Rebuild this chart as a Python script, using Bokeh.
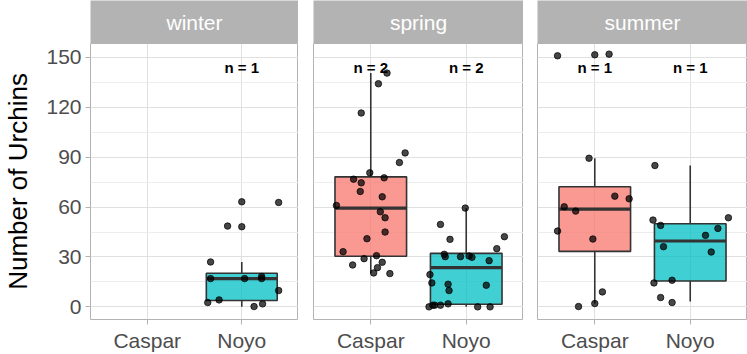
from bokeh.plotting import figure
from bokeh.layouts import row, column
from bokeh.models import ColumnDataSource, FixedTicker
from bokeh.core.properties import value
from bokeh.embed import file_html
from bokeh.resources import INLINE

# Facets and sites
seasons = ["winter", "spring", "summer"]
sites = ["Caspar", "Noyo"]
site_colors = {"Caspar": "#F8766D", "Noyo": "#00BFC4"}

# Box summaries per facet/site
box_season = ["winter", "spring", "spring", "summer", "summer"]
box_site = ["Noyo", "Caspar", "Noyo", "Caspar", "Noyo"]
box_lo = [0, 20.2, 0.0, 2.0, 3.2]
box_q1 = [3.8, 30.4, 1.6, 33.4, 15.6]
box_med = [17.0, 59.4, 23.6, 58.8, 39.6]
box_q3 = [20.2, 78.2, 32.2, 72.2, 50.0]
box_hi = [27.0, 140.6, 59.4, 89.4, 85.0]

# Sample counts shown above each box
n_season = ["winter", "spring", "spring", "summer", "summer"]
n_site = ["Noyo", "Caspar", "Noyo", "Caspar", "Noyo"]
n_value = [1, 2, 2, 1, 1]

# Individual urchin counts with their horizontal jitter
winter_noyo = [63.2, 62.8, 48.6, 48.2, 27, 17, 17, 18.2, 17, 9.8, 4.2, 2.6, 1.8, 0.2]
winter_noyo_jit = [0.00, 0.39, -0.15, 0.00, -0.33, -0.33, 0.03, 0.21, 0.21, 0.39, -0.24, -0.36, 0.22, 0.13]

spring_caspar = [140.6, 134.2, 116.6, 92.6, 86.8, 80.6, 76.8, 77.6, 74.6, 69.4, 66.2, 61, 57.2,
                 53.6, 45, 41, 33.2, 30.8, 29, 26.8, 25.2, 23.6, 20.4, 20]
spring_caspar_jit = [0.17, 0.08, -0.10, 0.36, 0.30, -0.01, -0.18, 0.14, -0.10, -0.11, 0.12, -0.36, 0.10,
                     0.15, 0.15, -0.04, -0.29, 0.06, -0.07, 0.12, -0.19, 0.07, 0.03, 0.20]

spring_noyo = [59.4, 49.6, 42.2, 40.6, 35, 31.6, 30.2, 30.2, 30.6, 29.8, 27.8, 19.4, 14.4, 13.6, 9.8,
               13, 0, 1, 1, 1, 1.8, 0, 0]
spring_noyo_jit = [-0.01, -0.27, 0.40, -0.17, 0.32, -0.23, -0.22, -0.06, 0.03, 0.06, 0.24, -0.38, -0.36,
                   -0.19, -0.18, 0.21, -0.39, -0.35, -0.33, -0.27, -0.19, 0.12, 0.25]

summer_caspar = [151, 151.6, 152, 89.4, 66.6, 65, 60.2, 57.6, 45.6, 40.8, 9, 2, 0.2]
summer_caspar_jit = [-0.39, 0.00, 0.15, -0.06, 0.21, 0.36, -0.32, -0.20, -0.39, -0.02, 0.08, 0.00, -0.17]

summer_noyo = [85, 53.6, 52.2, 49, 47.2, 43, 36.2, 33, 16, 14.4, 5.6, 2.6]
summer_noyo_jit = [-0.37, 0.40, -0.39, -0.31, 0.29, 0.16, -0.28, 0.22, -0.19, -0.38, -0.31, -0.19]

points = {
    ("winter", "Noyo"): (winter_noyo, winter_noyo_jit),
    ("spring", "Caspar"): (spring_caspar, spring_caspar_jit),
    ("spring", "Noyo"): (spring_noyo, spring_noyo_jit),
    ("summer", "Caspar"): (summer_caspar, summer_caspar_jit),
    ("summer", "Noyo"): (summer_noyo, summer_noyo_jit),
}

y_ticks = [0, 30, 60, 90, 120, 150]
y_minor = [15, 45, 75, 105, 135]

FONT = "Liberation Sans"
STRIP_H = 43
PANEL_H = 354 - STRIP_H
BOX_W = 0.75
site_pos = {s: i + 1 for i, s in enumerate(sites)}

widths = [298, 225, 224]
lefts = [88, 15, 14]

cols = []
for k, season in enumerate(seasons):
    # strip header
    s = figure(width=widths[k], height=STRIP_H, x_range=(0, 1), y_range=(0, 1),
               toolbar_location=None, output_backend="svg",
               min_border_left=lefts[k], min_border_right=0, min_border_top=0, min_border_bottom=0)
    s.axis.visible = False
    s.grid.visible = False
    s.outline_line_color = None
    s.background_fill_color = "#b3b3b3"
    s.border_fill_color = "white"
    s.text(x=[0.5], y=[0.5], text=[season], text_align="center", text_baseline="middle",
           text_color="#ffffff", text_font_size="21px", text_font=value(FONT))

    p = figure(width=widths[k], height=PANEL_H, x_range=(0.4, 2.6), y_range=(-7.6, 158.4),
               toolbar_location=None, output_backend="svg",
               min_border_left=lefts[k], min_border_right=0, min_border_top=0, min_border_bottom=35)
    p.background_fill_color = "white"
    p.border_fill_color = "white"
    p.outline_line_color = "#b3b3b3"
    p.outline_line_width = 1

    p.xaxis.ticker = FixedTicker(ticks=[1, 2])
    p.xaxis.major_label_overrides = {1: "Caspar", 2: "Noyo"}
    p.yaxis.ticker = FixedTicker(ticks=y_ticks, minor_ticks=y_minor)
    for ax in (p.xaxis[0], p.yaxis[0]):
        ax.axis_line_color = None
        ax.major_tick_line_color = "#b3b3b3"
        ax.major_tick_out = 5
        ax.major_tick_in = 0
        ax.minor_tick_out = 0
        ax.minor_tick_in = 0
        ax.major_label_text_font = FONT
        ax.major_label_text_font_size = "21px"
        ax.major_label_text_color = "#4d4d4d"
        ax.major_label_standoff = 4
    p.xgrid.grid_line_color = "#e0e0e0"
    p.ygrid.grid_line_color = "#e0e0e0"
    p.ygrid.minor_grid_line_color = "#ededed"
    p.ygrid.minor_grid_line_width = 1

    if k == 0:
        p.yaxis.axis_label = "Number of Urchins"
        p.yaxis.axis_label_text_font = FONT
        p.yaxis.axis_label_text_font_size = "26px"
        p.yaxis.axis_label_text_font_style = "normal"
        p.yaxis.axis_label_text_color = "#000000"
        p.yaxis.axis_label_standoff = 10
    else:
        p.yaxis.visible = False

    # boxes
    for i in range(len(box_season)):
        if box_season[i] != season:
            continue
        site = box_site[i]
        x0 = site_pos[site]
        src = ColumnDataSource(dict(x=[x0], lo=[box_lo[i]], q1=[box_q1[i]], med=[box_med[i]],
                                    q3=[box_q3[i]], hi=[box_hi[i]],
                                    l=[x0 - BOX_W / 2], r=[x0 + BOX_W / 2]))
        p.segment(x0="x", y0="q3", x1="x", y1="hi", source=src, line_color="#333333", line_width=1.6)
        p.segment(x0="x", y0="lo", x1="x", y1="q1", source=src, line_color="#333333", line_width=1.6)
        p.quad(left="l", right="r", bottom="q1", top="q3", source=src,
               fill_color=site_colors[site], fill_alpha=0.75,
               line_color="#333333", line_width=1.6)
        p.segment(x0="l", y0="med", x1="r", y1="med", source=src, line_color="#333333", line_width=3.2)

    # jittered points
    for site in sites:
        key = (season, site)
        if key not in points:
            continue
        ys, jit = points[key]
        xs = [site_pos[site] + j for j in jit]
        p.scatter(x=xs, y=ys, size=6.5, fill_color="#000000", fill_alpha=0.72,
                  line_color="#000000", line_alpha=0.72)

    # n labels
    for i in range(len(n_season)):
        if n_season[i] != season:
            continue
        p.text(x=[site_pos[n_site[i]]], y=[144], text=[f"n = {n_value[i]}"],
               text_align="center", text_baseline="middle", text_color="#000000",
               text_font_size="15px", text_font_style="bold", text_font=value(FONT))

    cols.append(column(s, p, spacing=0))

layout = row(*cols, spacing=0)

open("out.html", "w").write(file_html(layout, INLINE))
